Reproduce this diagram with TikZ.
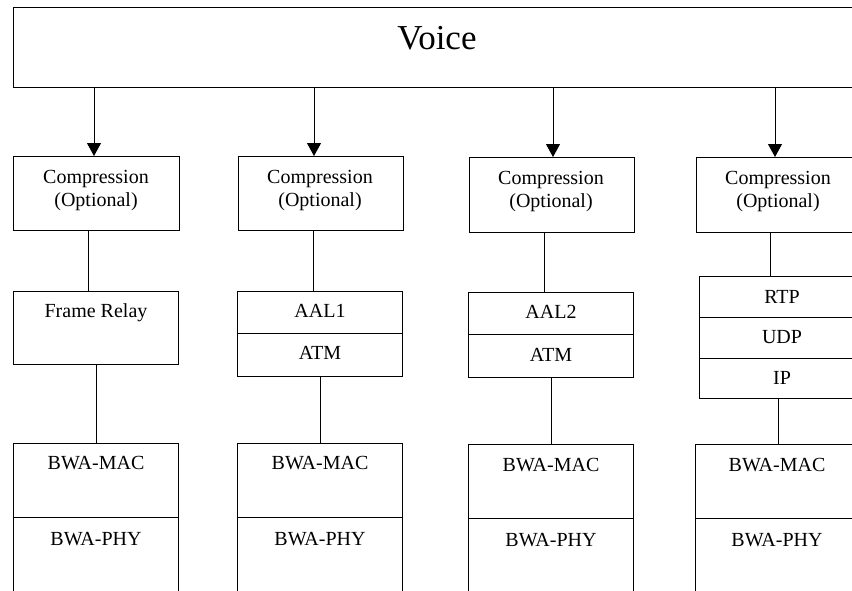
\documentclass[tikz,border=0pt]{standalone}
\usepackage{fontspec}
\setmainfont{Liberation Serif}
\usetikzlibrary{arrows.meta}
\begin{document}
\begin{tikzpicture}[x=1pt,y=-1pt,
  box/.style={draw,line width=1pt,anchor=north west,inner sep=0pt,minimum width=#1},
  box/.default=165pt,
  txt/.style={anchor=base,inner sep=0pt,font=\fontsize{20}{23}\selectfont},
  arr/.style={line width=1pt,-{Triangle[width=14pt,length=13pt]}},
  ln/.style={line width=1pt}]
\useasboundingbox (0,0) rectangle (852,590);
\clip (0,0) rectangle (852,590);
% top
\node[box=870pt,minimum height=80pt] (voice) at (13,7) {};
\node[anchor=base,inner sep=0pt,font=\fontsize{35}{40}\selectfont] (voicet) at (437,49) {Voice};
% column 1
\node[box=166pt,minimum height=74pt] (comp1) at (13,156) {};
\node[txt] (c1a) at (96,183) {Compression};
\node[txt] (c1b) at (96,206) {(Optional)};
\node[box,minimum height=73pt] (fr) at (13,291) {};
\node[txt] (frt) at (96,317) {Frame Relay};
\node[box,minimum height=74pt] (mac1) at (13,443) {};
\node[box,minimum height=120pt] (phy1) at (13,517) {};
\node[txt] (mac1t) at (96,469) {BWA-MAC};
\node[txt] (phy1t) at (96,545) {BWA-PHY};
% column 2
\node[box,minimum height=74pt] (comp2) at (238,156) {};
\node[txt] (c2a) at (320,183) {Compression};
\node[txt] (c2b) at (320,206) {(Optional)};
\node[box,minimum height=42pt] (aal1) at (237,291) {};
\node[box,minimum height=43pt] (atm1) at (237,333) {};
\node[txt] (aal1t) at (320,317) {AAL1};
\node[txt] (atm1t) at (320,359) {ATM};
\node[box,minimum height=74pt] (mac2) at (237,443) {};
\node[box,minimum height=120pt] (phy2) at (237,517) {};
\node[txt] (mac2t) at (320,469) {BWA-MAC};
\node[txt] (phy2t) at (320,545) {BWA-PHY};
% column 3
\node[box,minimum height=75pt] (comp3) at (469,157) {};
\node[txt] (c3a) at (551,184) {Compression};
\node[txt] (c3b) at (551,207) {(Optional)};
\node[box,minimum height=42pt] (aal2) at (468,292) {};
\node[box,minimum height=43pt] (atm2) at (468,334) {};
\node[txt] (aal2t) at (551,318) {AAL2};
\node[txt] (atm2t) at (551,361) {ATM};
\node[box,minimum height=74pt] (mac3) at (468,444) {};
\node[box,minimum height=120pt] (phy3) at (468,518) {};
\node[txt] (mac3t) at (551,471) {BWA-MAC};
\node[txt] (phy3t) at (551,546) {BWA-PHY};
% column 4
\node[box=170pt,minimum height=75pt] (comp4) at (696,157) {};
\node[txt] (c4a) at (778,184) {Compression};
\node[txt] (c4b) at (778,207) {(Optional)};
\node[box=166pt,minimum height=41pt] (rtp) at (699,276) {};
\node[box=166pt,minimum height=41pt] (udp) at (699,317) {};
\node[box=166pt,minimum height=40pt] (ip) at (699,358) {};
\node[txt] (rtpt) at (782,303) {RTP};
\node[txt] (udpt) at (782,343) {UDP};
\node[txt] (ipt) at (782,384) {IP};
\node[box=166pt,minimum height=74pt] (mac4) at (695,444) {};
\node[box=166pt,minimum height=120pt] (phy4) at (695,518) {};
\node[txt] (mac4t) at (777,471) {BWA-MAC};
\node[txt] (phy4t) at (777,546) {BWA-PHY};
% connector x positions
\coordinate (a1) at (94,0);
\coordinate (a2) at (314,0);
\coordinate (a3) at (553,0);
\coordinate (a4) at (775,0);
\coordinate (l1) at (88,0);
\coordinate (m1) at (96,0);
\coordinate (l2) at (313,0);
\coordinate (m2) at (320,0);
\coordinate (l3) at (544,0);
\coordinate (m3) at (551,0);
\coordinate (l4) at (770,0);
\coordinate (m4) at (778,0);
% arrows
\draw[arr] (voice.south -| a1) -- (comp1.north -| a1);
\draw[arr] (voice.south -| a2) -- (comp2.north -| a2);
\draw[arr] (voice.south -| a3) -- (comp3.north -| a3);
\draw[arr] (voice.south -| a4) -- (comp4.north -| a4);
% lines
\draw[ln] (comp1.south -| l1) -- (fr.north -| l1);
\draw[ln] (fr.south -| m1) -- (mac1.north -| m1);
\draw[ln] (comp2.south -| l2) -- (aal1.north -| l2);
\draw[ln] (atm1.south -| m2) -- (mac2.north -| m2);
\draw[ln] (comp3.south -| l3) -- (aal2.north -| l3);
\draw[ln] (atm2.south -| m3) -- (mac3.north -| m3);
\draw[ln] (comp4.south -| l4) -- (rtp.north -| l4);
\draw[ln] (ip.south -| m4) -- (mac4.north -| m4);
\end{tikzpicture}
\end{document}
